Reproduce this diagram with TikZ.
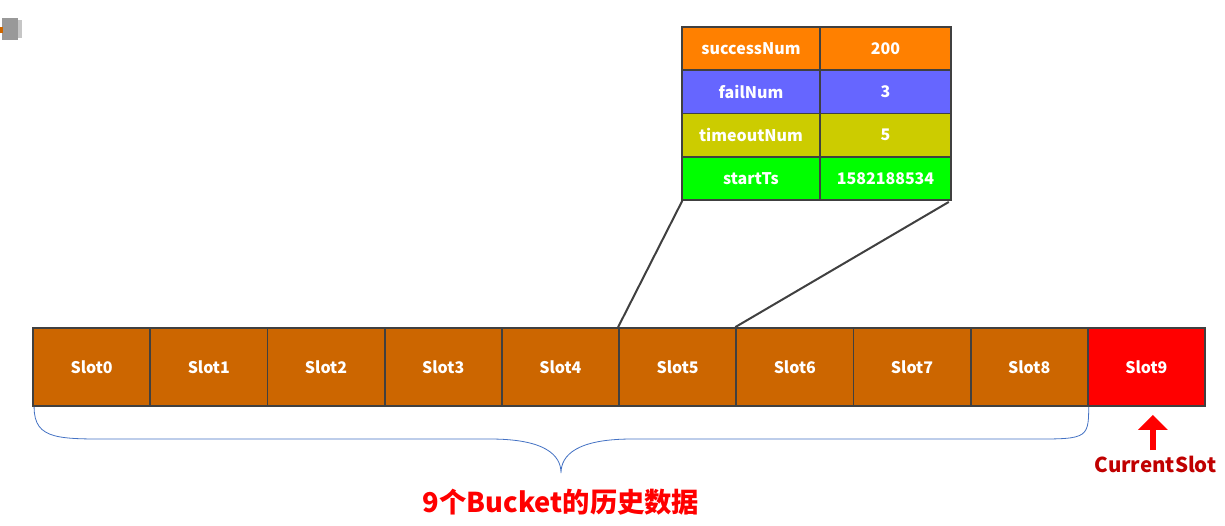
\documentclass[tikz,border=0pt]{standalone}
\usepackage{fontspec}
\setmainfont{Noto Sans CJK SC}
\usetikzlibrary{arrows.meta}
\definecolor{slotbrown}{RGB}{204,102,0}
\definecolor{slotred}{RGB}{255,0,0}
\definecolor{edgegray}{RGB}{64,64,64}
\definecolor{tOrange}{RGB}{255,128,0}
\definecolor{tBlue}{RGB}{102,102,255}
\definecolor{tYellow}{RGB}{204,204,0}
\definecolor{tGreen}{RGB}{0,255,0}
\definecolor{braceblue}{RGB}{68,114,196}
\definecolor{darkred}{RGB}{192,0,0}
\tikzset{
  slotbox/.style={draw=edgegray, line width=1.8pt, fill=slotbrown, minimum width=117.2pt, minimum height=78pt, inner sep=0pt, text=white, font=\bfseries\fontsize{16}{19}\selectfont},
  cellbox/.style={draw=edgegray, line width=1.6pt, minimum height=43.3pt, inner sep=0pt, text=white, font=\bfseries\fontsize{16}{19}\selectfont},
  leftcell/.style={cellbox, minimum width=138pt},
  rightcell/.style={cellbox, minimum width=131pt},
  linkline/.style={draw=edgegray, line width=2pt},
}
\begin{document}
\begin{tikzpicture}[x=1pt,y=-1pt]
\useasboundingbox (0,0) rectangle (1225,525);
\fill[white] (0,0) rectangle (1225,525);
% small smudge at the top left
\fill[gray!80] (2,18) rectangle (18,40);
\fill[gray!45] (18,20) rectangle (22,38);
\fill[orange!80!black] (0,27) rectangle (3,33);
% slots
\foreach \i in {0,...,8} {
  \node[slotbox] (s\i) at ({33+117.2*\i+58.6},367) {Slot\i};
}
\node[slotbox, fill=slotred] (s9) at ({33+117.2*9+58.6},367) {Slot9};
% table
\node[leftcell, fill=tOrange] (t1a) at (751,48.6) {successNum};
\node[rightcell, fill=tOrange] (t1b) at (885.5,48.6) {200};
\node[leftcell, fill=tBlue] (t2a) at (751,91.9) {failNum};
\node[rightcell, fill=tBlue] (t2b) at (885.5,91.9) {3};
\node[leftcell, fill=tYellow] (t3a) at (751,135.2) {timeoutNum};
\node[rightcell, fill=tYellow] (t3b) at (885.5,135.2) {5};
\node[leftcell, fill=tGreen] (t4a) at (751,178.5) {startTs};
\node[rightcell, fill=tGreen] (t4b) at (885.5,178.5) {1582188534};
% connectors
\draw[linkline] ([xshift=1pt]t4a.south west) -- (s5.north west);
\draw[linkline] ([xshift=-3pt,yshift=-1pt]t4b.south east) -- (s6.north west);
% brace
\coordinate (bl) at ([xshift=2pt]s0.south west);
\coordinate (br) at (s8.south east);
\coordinate (tip) at (561,473);
\draw[braceblue, line width=0.8pt] (bl) .. controls ([yshift=-34pt]bl) and (60,439) .. (120,439)
  -- (490,439) .. controls (545,439) and (561,455) .. (tip)
  .. controls (561,455) and (577,439) .. (632,439)
  -- (1020,439) .. controls (1086,439) and ([yshift=-34pt]br) .. (br);
\node[text=red, font=\bfseries\fontsize{27.3}{31}\selectfont] (lbl) at (561,502) {9个Bucket的历史数据};
% current slot
\node[text=darkred, font=\bfseries\fontsize{20.5}{24}\selectfont] (cs) at (1155.5,464) {CurrentSlot};
\coordinate (atip) at ([xshift=6.5pt,yshift=-8pt]s9.south);
\draw[red, line width=5.5pt, -{Triangle[width=29pt,length=15pt]}] ([yshift=2pt]atip |- cs.north) -- (atip);
\end{tikzpicture}
\end{document}
